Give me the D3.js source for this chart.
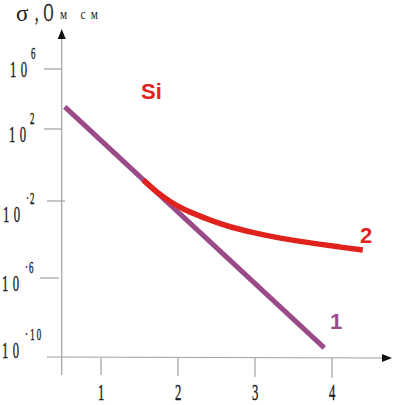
<!DOCTYPE html>
<html>
<head>
<meta charset="utf-8">
<script src="https://cdn.jsdelivr.net/npm/d3@7"></script>
<style>
  body { margin: 0; background: #fff; }
  svg { display: block; }
</style>
</head>
<body>
<div id="chart"></div>
<script>
// data
var xTicks = [1, 2, 3, 4];
var yTicks = [6, 2, -2, -6, -10];          // powers of ten
var yTickText = ["6", "2", "-2", "-6", "-10"];

// curve 1 : straight line
var line1X = [0.53, 3.9];
var line1Y = [3.47, -9.54];

// curve 2 : bends away from line 1
var line2X = [1.55, 1.7, 1.9, 2.09, 2.25, 2.48, 2.68, 2.94, 3.36, 3.81, 4.1, 4.4];
var line2Y = [-0.83, -1.44, -2.05, -2.47, -2.73, -3.09, -3.35, -3.61, -3.97, -4.23, -4.39, -4.55];

var width = 394, height = 405;
var purple = "#9a4a87", red = "#e0221c", axisCol = "#a0a0a0";

var svg = d3.select("#chart").append("svg")
    .attr("width", width)
    .attr("height", height);

// scales (the drawing is hand made, so the y scale is piecewise)
var x = d3.scaleLinear().domain([0, 4]).range([24, 332]);
var y = d3.scaleLinear().domain(yTicks).range([69, 129, 201, 278, 357]);

var x0 = x(0.49), yAxisTop = 38, yAxisBottom = 375;

// narrow serif text helper
function narrow(g, px, py, str, size, spacing) {
  return g.append("text")
      .attr("transform", "translate(" + px + "," + py + ") scale(0.55,1)")
      .style("font-family", "Liberation Serif, serif")
      .style("font-size", size + "px")
      .style("letter-spacing", spacing + "px")
      .style("fill", "#1a1a1a")
      .style("stroke", "#1a1a1a")
      .style("stroke-width", 0.4)
      .text(str);
}

// y axis
svg.append("line")
    .attr("x1", x0).attr("x2", x0)
    .attr("y1", yAxisTop).attr("y2", yAxisBottom)
    .style("stroke", axisCol).style("stroke-width", 1.2);
svg.append("path")
    .attr("d", "M" + x0 + ",29 L" + (x0 - 4) + ",39 L" + (x0 + 4) + ",39 Z")
    .style("fill", "#111");

// x axis
svg.append("line")
    .attr("x1", 47).attr("x2", 384)
    .attr("y1", y(-10)).attr("y2", y(-10) + 1)
    .style("stroke", axisCol).style("stroke-width", 1.2);
svg.append("path")
    .attr("d", "M392," + (y(-10) + 1) + " L382," + (y(-10) - 3) + " L382," + (y(-10) + 5) + " Z")
    .style("fill", "#111");

// x ticks
var xt = svg.append("g");
xTicks.forEach(function(t, i) {
  xt.append("line")
      .attr("x1", x(t)).attr("x2", x(t))
      .attr("y1", y(-10) + 1).attr("y2", y(-10) + 18 + i)
      .style("stroke", axisCol).style("stroke-width", 1.2);
  narrow(xt, x(t) - 3, 400, String(t), 23, 0);
});

// y ticks and labels
var tickSpan = [[44, 62], [44, 62], [47, 65], [40, 59], [47, 62]];
var labelDy = [8, 13, 21, 13, 1];
var labelX = [10, 9, 3, 2, 2];
var yt = svg.append("g");
yTicks.forEach(function(t, i) {
  if (i < yTicks.length - 1) {
    yt.append("line")
        .attr("x1", tickSpan[i][0]).attr("x2", tickSpan[i][1])
        .attr("y1", y(t)).attr("y2", y(t))
        .style("stroke", axisCol).style("stroke-width", 1.2);
  }
  var by = y(t) + labelDy[i];
  narrow(yt, labelX[i], by, "10", 23, 8);
  var sup = yTickText[i].replace("-", "\u00b7");
  narrow(yt, labelX[i] + 21 + (i > 1 ? 2 : 0), by - 18, sup, 16, sup.length > 2 ? 4 : 2);
});

// axis title
var tt = svg.append("g");
tt.append("text")
    .attr("x", 16).attr("y", 21)
    .style("font-family", "Liberation Serif, serif")
    .style("font-size", "23px")
    .style("fill", "#1a1a1a")
    .text("\u03c3");
narrow(tt, 35, 21, ",О", 25, 9);
tt.append("text")
    .attr("transform", "translate(60,19) scale(0.75,1)")
    .style("font-family", "Liberation Serif, serif")
    .style("font-size", "15px")
    .style("letter-spacing", "7px")
    .style("fill", "#1a1a1a")
    .text("м см");

// curves
var path = d3.line()
    .x(function(d) { return x(d[0]); })
    .y(function(d) { return y(d[1]); });

svg.append("path")
    .datum(d3.zip(line1X, line1Y))
    .attr("d", path)
    .style("fill", "none")
    .style("stroke", purple)
    .style("stroke-width", 5);

svg.append("path")
    .datum(d3.zip(line2X, line2Y))
    .attr("d", path.curve(d3.curveBasis))
    .style("fill", "none")
    .style("stroke", red)
    .style("stroke-width", 5.5);

// annotations
function bold(txt, px, py, col) {
  svg.append("text")
      .attr("x", px).attr("y", py)
      .style("font-family", "Liberation Sans, Arial, sans-serif")
      .style("font-weight", "bold")
      .style("font-size", "22px")
      .style("fill", col)
      .text(txt);
}
bold("Si", 141, 99, red);
bold("2", 360, 243, red);
bold("1", 330, 329, purple);
</script>
</body>
</html>
